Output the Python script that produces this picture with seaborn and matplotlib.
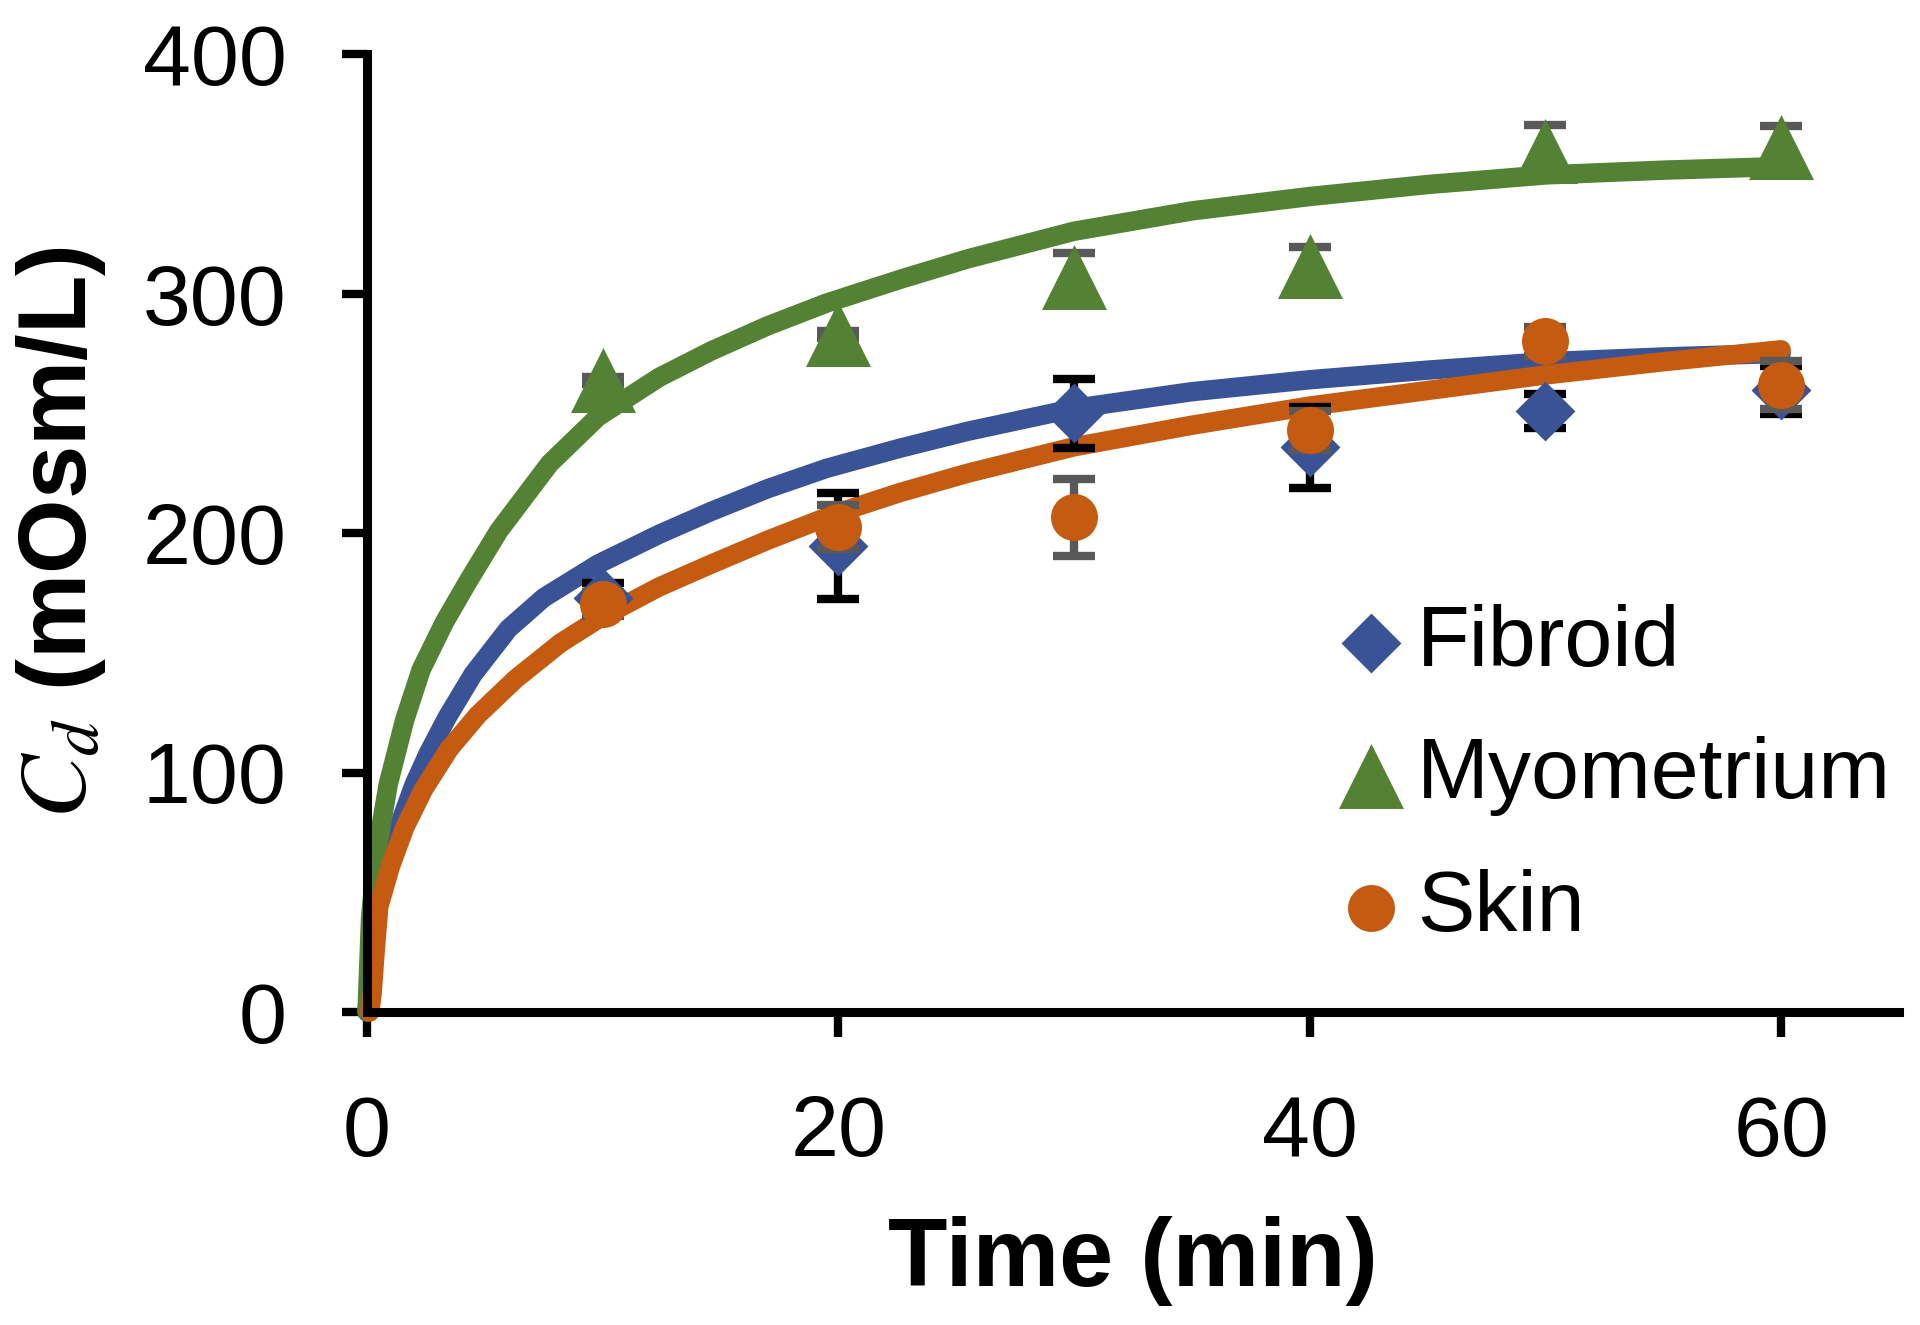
import numpy as np
import seaborn as sns
import matplotlib.pyplot as plt

sns.set_style("ticks")
plt.rcParams['font.family'] = ['Liberation Sans', 'DejaVu Sans']
plt.rcParams['mathtext.fontset'] = 'stix'
plt.rcParams['text.color'] = 'black'
plt.rcParams['axes.labelcolor'] = 'black'
plt.rcParams['xtick.color'] = 'black'
plt.rcParams['ytick.color'] = 'black'

# measured points (mean +/- error)
time_pts = [10, 20, 30, 40, 50, 60]
fibroid = [173, 194.5, 250, 235.8, 251, 259.7]
fibroid_err = [6, 22, 14.5, 17, 7, 10]
myometrium = [263.8, 283, 307, 311.5, 359.3, 361]
myometrium_err = [1.5, 1.5, 10, 8, 11, 9]
skin = [170.4, 202.5, 206.6, 242.8, 280, 261.7]
skin_err = [5, 9, 16, 8, 6, 10]

# fitted curves
fib_fit_t = [0, 0.4, 0.8, 1.3, 2.0, 2.6, 3.4, 4.5, 6.0, 7.5, 9.8, 12.4, 14.6, 17,
             19.5, 22.65, 25.5, 30, 35, 40, 45, 50, 55, 60]
fib_fit_v = [0, 40, 60, 76, 95, 108, 123, 141, 160, 173, 187, 199.5, 209, 218.5,
             227, 235.5, 242.5, 252, 259, 264, 268, 271.5, 273.5, 275]
myo_fit_t = [0, 0.15, 0.41, 0.9, 1.6, 2.3, 3.3, 4.3, 5.6, 7.75, 9.8, 12.4, 14.6, 17,
             19.5, 22.65, 25.5, 30, 35, 40, 45, 50, 55, 60]
myo_fit_v = [0, 39, 67, 95, 122, 143, 163, 180, 201, 229, 248.5, 265, 276, 286.5,
             296, 306, 314.5, 326, 334.5, 340.5, 345.5, 349.5, 351.5, 353]
skin_fit_t = [0.12, 0.22, 0.35, 0.5, 1.0, 1.6, 2.4, 3.5, 4.7, 6.3, 8.2, 9.8, 12.4,
              14.6, 17, 20, 22.65, 25.5, 30, 35, 40, 45, 50, 55, 60]
skin_fit_v = [0, 8, 26, 44, 61, 77, 93, 110, 124, 139, 154, 164, 177.5,
              187, 197, 208.5, 217, 225, 236, 245, 253, 259.5, 266, 271.5, 276.5]

x_ticks = [0, 20, 40, 60]
y_ticks = [0, 100, 200, 300, 400]

blue = '#3A5396'
green = '#548235'
orange = '#C55A11'
grey = '#595959'

fig, ax = plt.subplots(figsize=(19.2, 13.25), dpi=100)
fig.subplots_adjust(left=367/1920, right=1899/1920, bottom=1-1012/1325, top=1-54/1325)

# fit lines
for t, v, c, z in [(fib_fit_t, fib_fit_v, blue, 2.0),
                   (myo_fit_t, myo_fit_v, green, 2.1),
                   (skin_fit_t, skin_fit_v, orange, 2.2)]:
    sns.lineplot(x=t, y=v, color=c, ax=ax, sort=False, legend=False, linewidth=14)
    ln = ax.lines[-1]
    ln.set_solid_capstyle('round')
    ln.set_solid_joinstyle('round')
    ln.set_zorder(z)
    ln.set_clip_on(False)

# error bars + markers, series by series
series = [
    ("Fibroid", fibroid, fibroid_err, blue, 'black', 'D', 930),
    ("Myometrium", myometrium, myometrium_err, green, grey, '^', 2190),
    ("Skin", skin, skin_err, orange, grey, 'o', 1144),
]
handles = []
for i, (name, y, yerr, c, ec, mk, s) in enumerate(series):
    ax.errorbar(time_pts, y, yerr=yerr, fmt='none', ecolor=ec, elinewidth=6,
                capsize=15, capthick=6, zorder=3 + i * 0.2)
    sns.scatterplot(x=time_pts, y=y, marker=mk, s=s, color=c, linewidth=0,
                    ax=ax, zorder=3.1 + i * 0.2, label=name, legend=False)
    handles.append(ax.collections[-1])

ax.set_xlim(0, 65)
ax.set_ylim(0, 400)
ax.set_xticks(x_ticks)
ax.set_yticks(y_ticks)

sns.despine(ax=ax)
for side in ['left', 'bottom']:
    ax.spines[side].set_linewidth(6.5)
    ax.spines[side].set_color('black')
ax.tick_params(axis='both', direction='out', length=18, width=6,
               labelsize=62, color='black', labelcolor='black')
ax.tick_params(axis='x', pad=41)
ax.tick_params(axis='y', pad=40)

ax.set_xlabel("Time (min)", fontsize=70, fontweight='bold')
ax.set_ylabel(r"$C_d$ (mOsm/L)", fontsize=69, fontweight='bold')
ax.xaxis.set_label_coords(0.5, -0.2125)
ax.yaxis.set_label_coords(-0.169, 0.5)

ax.legend(handles=handles, labels=[s[0] for s in series], loc='upper left',
          bbox_to_anchor=(0.636, 0.426), frameon=False, fontsize=62,
          borderpad=0, borderaxespad=0, handlelength=0.7, handletextpad=0.18,
          labelspacing=0.61, scatterpoints=1)

plt.savefig("out.png", dpi=100)
